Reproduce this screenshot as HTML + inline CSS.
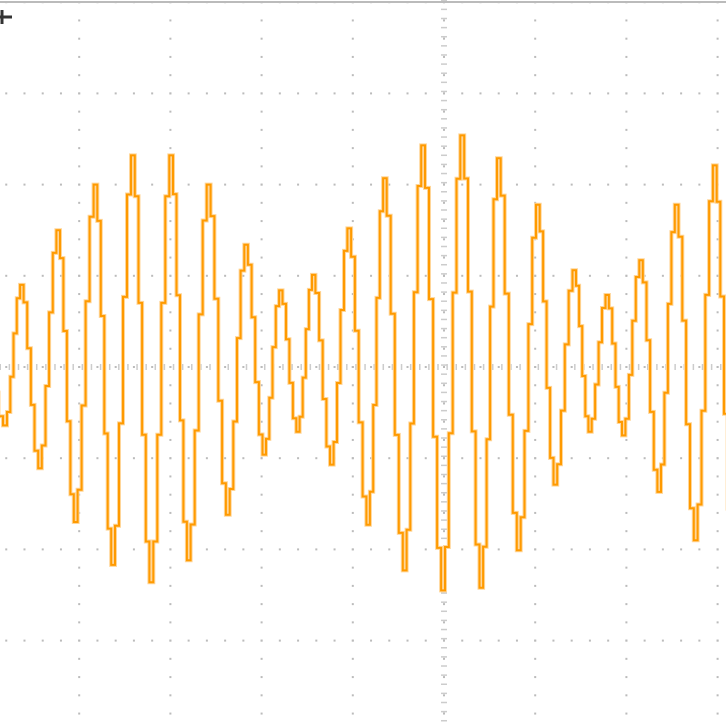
<!DOCTYPE html>
<html><head><meta charset="utf-8"><style>
html,body{margin:0;padding:0;background:#fff;width:726px;height:725px;overflow:hidden}
svg{display:block}
</style></head><body>
<svg id="scope" width="726" height="725" viewBox="0 0 726 725" xmlns="http://www.w3.org/2000/svg">
<rect x="0" y="0" width="726" height="725" fill="#fff"/>
<line x1="0" y1="2" x2="726" y2="2" stroke="#bbb" stroke-width="2"/>
<g id="grid"></g>
<g id="trace"></g>
<g>
<line x1="0" y1="17" x2="12" y2="17" stroke="#333" stroke-width="3"/>
<line x1="2" y1="10" x2="2" y2="24" stroke="#333" stroke-width="3"/>
</g>
</svg>
<script>
// extrema times (divisions from center) and voltages (divisions from center)
const extremaTime = [-5.06,-4.81,-4.63,-4.43,-4.23,-4.04,-3.82,-3.63,-3.41,-3.21,-2.99,-2.80,-2.58,-2.37,-2.17,-1.97,-1.79,-1.60,-1.43,-1.23,-1.04,-0.83,-0.65,-0.43,-0.23,-0.01,0.20,0.41,0.60,0.82,1.03,1.22,1.43,1.60,1.79,1.97,2.16,2.36,2.55,2.76,2.97,3.17];
const extremaVolt = [0.40,-0.64,0.90,-1.11,1.50,-1.70,2.00,-2.17,2.32,-2.36,2.32,-2.12,2.00,-1.62,1.34,-0.96,0.84,-0.71,1.01,-1.07,1.52,-1.73,2.07,-2.23,2.43,-2.45,2.54,-2.42,2.29,-2.01,1.78,-1.29,1.06,-0.71,0.79,-0.75,1.17,-1.37,1.78,-1.90,2.21,-1.95];

const CX=444, CY=367, DIV=91.2;
const sx = t => CX + t*DIV;
const sy = v => CY - v*DIV;
const NS="http://www.w3.org/2000/svg";

// grid
const grid=document.getElementById('grid');
function dot(x,y,w,h,c){
  const r=document.createElementNS(NS,'rect');
  r.setAttribute('x',x);r.setAttribute('y',y);r.setAttribute('width',w);r.setAttribute('height',h);r.setAttribute('fill',c);
  
  
  grid.appendChild(r);
}
for(let k=-5;k<=4;k++){
  const x=sx(k);
  for(let y=CY-5*DIV;y<=725;y+=DIV/5) dot(x-1,y-1,2,2,'#bbb');
}
for(let k=-4;k<=4;k++){
  const y=sy(k);
  for(let x=CX-5*DIV;x<=726;x+=DIV/5) dot(x-1,y-1,2,2,'#bbb');
}
for(let y=0;y<=725;y+=DIV/10) dot(CX-3,y-0.5,6,1.5,'#ccc');
for(let x=0;x<=726;x+=DIV/10) dot(x-0.5,CY-3,1.5,6,'#ccc');

// stepped trace
let d='';
const STEPS=5;
for(let i=0;i<extremaTime.length-1;i++){
  const t0=extremaTime[i],t1=extremaTime[i+1],v0=extremaVolt[i],v1=extremaVolt[i+1];
  if(i===0) d+='M'+sx(t0).toFixed(1)+' '+sy(v0).toFixed(1);
  for(let s=1;s<=STEPS;s++){
    const f=s/STEPS;
    const x=sx(t0+(t1-t0)*(s-0.5)/STEPS);
    const v=v0+(v1-v0)*(1-Math.cos(Math.PI*f))/2;
    d+=' H'+x.toFixed(1)+' V'+sy(v).toFixed(1);
  }
  d+=' H'+sx(t1).toFixed(1);
}
const trace=document.getElementById('trace');
const halo=document.createElementNS(NS,'path');
halo.setAttribute('d',d);halo.setAttribute('fill','none');halo.setAttribute('stroke','#ffd699');halo.setAttribute('stroke-width','4');


trace.appendChild(halo);
const p=document.createElementNS(NS,'path');
p.setAttribute('d',d);p.setAttribute('fill','none');p.setAttribute('stroke','#ff9a00');p.setAttribute('stroke-width','2');


trace.appendChild(p);
</script>
</body></html>
